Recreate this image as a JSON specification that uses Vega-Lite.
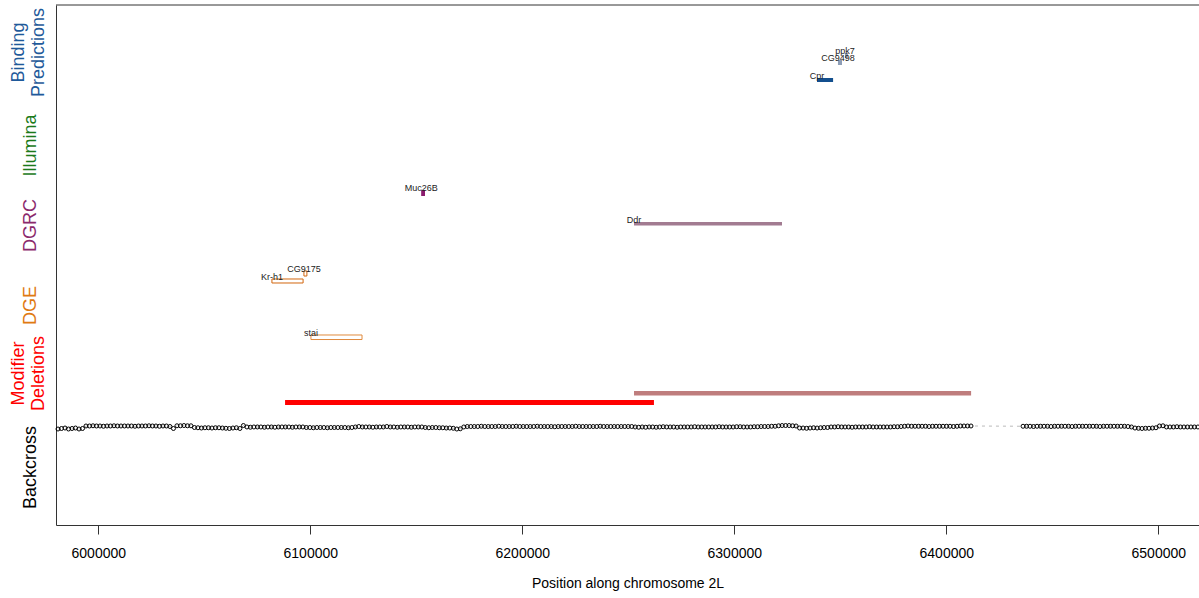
{
  "$schema": "https://vega.github.io/schema/vega-lite/v6.json",
  "width": 1143,
  "height": 520,
  "autosize": {"type": "none"},
  "padding": {"left": 56, "top": 5, "right": 0, "bottom": 73},
  "background": "white",
  "config": {"view": {"stroke": null}, "font": "Liberation Sans"},
  "datasets": {
    "genes": [
      {"gene": "Cpr", "track": "Binding Predictions", "start": 6339000, "end": 6346600, "lo": 85.19, "hi": 85.96},
      {"gene": "CG9498", "track": "Binding Predictions", "start": 6348900, "end": 6350800, "lo": 88.46, "hi": 89.42},
      {"gene": "ppk7", "track": "Binding Predictions", "start": 6352200, "end": 6353600, "lo": 89.81, "hi": 90.77},
      {"gene": "Muc26B", "track": "DGRC", "start": 6152300, "end": 6154100, "lo": 63.27, "hi": 64.42},
      {"gene": "Ddr", "track": "DGRC", "start": 6252700, "end": 6322500, "lo": 57.6, "hi": 58.27},
      {"gene": "Kr-h1", "track": "DGE", "start": 6081900, "end": 6096600, "lo": 46.54, "hi": 47.31},
      {"gene": "CG9175", "track": "DGE", "start": 6097000, "end": 6098400, "lo": 47.88, "hi": 48.85},
      {"gene": "stai", "track": "DGE", "start": 6100300, "end": 6124400, "lo": 35.67, "hi": 36.54},
      {"gene": "del-1", "track": "Modifier Deletions", "start": 6088100, "end": 6262100, "lo": 23.08, "hi": 24.04},
      {"gene": "del-2", "track": "Modifier Deletions", "start": 6252700, "end": 6411700, "lo": 24.9, "hi": 25.77}
    ],
    "bc": [
      {"pos":5981000,"lod":18.46},{"pos":5982650,"lod":18.56},{"pos":5984300,"lod":18.65},{"pos":5985950,"lod":18.46},{"pos":5987600,"lod":18.56},{"pos":5989250,"lod":18.65},{"pos":5990900,"lod":18.46},{"pos":5992550,"lod":18.56},{"pos":5994200,"lod":19.04},{"pos":5995850,"lod":19.04},{"pos":5997500,"lod":19.08},{"pos":5999150,"lod":19.04},{"pos":6000800,"lod":19.04},{"pos":6002450,"lod":18.99},{"pos":6004100,"lod":19.04},{"pos":6005750,"lod":19.04},{"pos":6007400,"lod":19.08},{"pos":6009050,"lod":19.04},{"pos":6010700,"lod":19.04},{"pos":6012350,"lod":19.04},
      {"pos":6014000,"lod":19.04},{"pos":6015650,"lod":19.04},{"pos":6017300,"lod":18.99},{"pos":6018950,"lod":19.04},{"pos":6020600,"lod":19.04},{"pos":6022250,"lod":19.04},{"pos":6023900,"lod":19.08},{"pos":6025550,"lod":19.04},{"pos":6027200,"lod":19.04},{"pos":6028850,"lod":18.99},{"pos":6030500,"lod":19.04},{"pos":6032150,"lod":19.04},{"pos":6033800,"lod":18.94},{"pos":6035450,"lod":18.56},{"pos":6037100,"lod":19.08},{"pos":6038750,"lod":19.08},{"pos":6040400,"lod":19.13},{"pos":6042050,"lod":19.08},{"pos":6043700,"lod":19.08},{"pos":6045350,"lod":18.75},
      {"pos":6047000,"lod":18.7},{"pos":6048650,"lod":18.65},{"pos":6050300,"lod":18.7},{"pos":6051950,"lod":18.7},{"pos":6053600,"lod":18.65},{"pos":6055250,"lod":18.7},{"pos":6056900,"lod":18.7},{"pos":6058550,"lod":18.65},{"pos":6060200,"lod":18.6},{"pos":6061850,"lod":18.56},{"pos":6063500,"lod":18.65},{"pos":6065150,"lod":18.7},{"pos":6066800,"lod":18.56},{"pos":6068450,"lod":19.13},{"pos":6070100,"lod":18.85},{"pos":6071750,"lod":18.8},{"pos":6073400,"lod":18.85},{"pos":6075050,"lod":18.85},{"pos":6076700,"lod":18.85},{"pos":6078350,"lod":18.8},
      {"pos":6080000,"lod":18.85},{"pos":6081650,"lod":18.85},{"pos":6083300,"lod":18.8},{"pos":6084950,"lod":18.85},{"pos":6086600,"lod":18.85},{"pos":6088250,"lod":18.85},{"pos":6089900,"lod":18.85},{"pos":6091550,"lod":18.8},{"pos":6093200,"lod":18.85},{"pos":6094850,"lod":18.85},{"pos":6096500,"lod":18.85},{"pos":6098150,"lod":18.75},{"pos":6099800,"lod":18.75},{"pos":6101450,"lod":18.7},{"pos":6103100,"lod":18.75},{"pos":6104750,"lod":18.75},{"pos":6106400,"lod":18.75},{"pos":6108050,"lod":18.7},{"pos":6109700,"lod":18.75},{"pos":6111350,"lod":18.75},
      {"pos":6113000,"lod":18.75},{"pos":6114650,"lod":18.75},{"pos":6116300,"lod":18.75},{"pos":6117950,"lod":18.7},{"pos":6119600,"lod":18.75},{"pos":6121250,"lod":18.85},{"pos":6122900,"lod":18.94},{"pos":6124550,"lod":18.85},{"pos":6126200,"lod":18.85},{"pos":6127850,"lod":18.85},{"pos":6129500,"lod":18.8},{"pos":6131150,"lod":18.85},{"pos":6132800,"lod":18.85},{"pos":6134450,"lod":18.85},{"pos":6136100,"lod":18.94},{"pos":6137750,"lod":18.85},{"pos":6139400,"lod":18.85},{"pos":6141050,"lod":18.8},{"pos":6142700,"lod":18.85},{"pos":6144350,"lod":18.85},
      {"pos":6146000,"lod":18.85},{"pos":6147650,"lod":18.8},{"pos":6149300,"lod":18.85},{"pos":6150950,"lod":18.85},{"pos":6152600,"lod":18.85},{"pos":6154250,"lod":18.75},{"pos":6155900,"lod":18.7},{"pos":6157550,"lod":18.75},{"pos":6159200,"lod":18.75},{"pos":6160850,"lod":18.7},{"pos":6162500,"lod":18.7},{"pos":6164150,"lod":18.65},{"pos":6165800,"lod":18.65},{"pos":6167450,"lod":18.6},{"pos":6169100,"lod":18.46},{"pos":6170750,"lod":18.5},{"pos":6172400,"lod":18.85},{"pos":6174050,"lod":18.94},{"pos":6175700,"lod":18.94},{"pos":6177350,"lod":18.94},
      {"pos":6179000,"lod":18.94},{"pos":6180650,"lod":18.99},{"pos":6182300,"lod":18.94},{"pos":6183950,"lod":18.94},{"pos":6185600,"lod":18.94},{"pos":6187250,"lod":18.94},{"pos":6188900,"lod":18.99},{"pos":6190550,"lod":18.94},{"pos":6192200,"lod":18.94},{"pos":6193850,"lod":18.94},{"pos":6195500,"lod":18.94},{"pos":6197150,"lod":18.99},{"pos":6198800,"lod":18.94},{"pos":6200450,"lod":18.94},{"pos":6202100,"lod":18.94},{"pos":6203750,"lod":18.94},{"pos":6205400,"lod":18.94},{"pos":6207050,"lod":18.99},{"pos":6208700,"lod":18.94},{"pos":6210350,"lod":18.94},
      {"pos":6212000,"lod":18.94},{"pos":6213650,"lod":18.94},{"pos":6215300,"lod":18.9},{"pos":6216950,"lod":18.94},{"pos":6218600,"lod":18.94},{"pos":6220250,"lod":18.94},{"pos":6221900,"lod":18.94},{"pos":6223550,"lod":18.94},{"pos":6225200,"lod":18.99},{"pos":6226850,"lod":18.94},{"pos":6228500,"lod":18.94},{"pos":6230150,"lod":18.94},{"pos":6231800,"lod":18.94},{"pos":6233450,"lod":18.94},{"pos":6235100,"lod":18.94},{"pos":6236750,"lod":18.99},{"pos":6238400,"lod":18.94},{"pos":6240050,"lod":18.94},{"pos":6241700,"lod":18.94},{"pos":6243350,"lod":18.94},
      {"pos":6245000,"lod":18.94},{"pos":6246650,"lod":18.94},{"pos":6248300,"lod":18.94},{"pos":6249950,"lod":18.94},{"pos":6251600,"lod":18.94},{"pos":6253250,"lod":18.85},{"pos":6254900,"lod":18.8},{"pos":6256550,"lod":18.85},{"pos":6258200,"lod":18.8},{"pos":6259850,"lod":18.85},{"pos":6261500,"lod":18.85},{"pos":6263150,"lod":18.8},{"pos":6264800,"lod":18.85},{"pos":6266450,"lod":18.9},{"pos":6268100,"lod":18.85},{"pos":6269750,"lod":18.85},{"pos":6271400,"lod":18.85},{"pos":6273050,"lod":18.8},{"pos":6274700,"lod":18.85},{"pos":6276350,"lod":18.85},
      {"pos":6278000,"lod":18.85},{"pos":6279650,"lod":18.85},{"pos":6281300,"lod":18.9},{"pos":6282950,"lod":18.85},{"pos":6284600,"lod":18.85},{"pos":6286250,"lod":18.85},{"pos":6287900,"lod":18.85},{"pos":6289550,"lod":18.85},{"pos":6291200,"lod":18.85},{"pos":6292850,"lod":18.9},{"pos":6294500,"lod":18.85},{"pos":6296150,"lod":18.85},{"pos":6297800,"lod":18.85},{"pos":6299450,"lod":18.85},{"pos":6301100,"lod":18.9},{"pos":6302750,"lod":18.9},{"pos":6304400,"lod":18.85},{"pos":6306050,"lod":18.85},{"pos":6307700,"lod":18.85},{"pos":6309350,"lod":18.9},
      {"pos":6311000,"lod":18.9},{"pos":6312650,"lod":18.94},{"pos":6314300,"lod":18.94},{"pos":6315950,"lod":18.94},{"pos":6317600,"lod":18.99},{"pos":6319250,"lod":18.99},{"pos":6320900,"lod":19.08},{"pos":6322550,"lod":19.13},{"pos":6324200,"lod":19.13},{"pos":6325850,"lod":19.13},{"pos":6327500,"lod":19.08},{"pos":6329150,"lod":19.04},{"pos":6330800,"lod":18.65},{"pos":6332450,"lod":18.65},{"pos":6334100,"lod":18.6},{"pos":6335750,"lod":18.65},{"pos":6337400,"lod":18.7},{"pos":6339050,"lod":18.65},{"pos":6340700,"lod":18.7},{"pos":6342350,"lod":18.75},
      {"pos":6344000,"lod":18.75},{"pos":6345650,"lod":18.85},{"pos":6347300,"lod":18.85},{"pos":6348950,"lod":18.9},{"pos":6350600,"lod":18.85},{"pos":6352250,"lod":18.85},{"pos":6353900,"lod":18.85},{"pos":6355550,"lod":18.8},{"pos":6357200,"lod":18.85},{"pos":6358850,"lod":18.85},{"pos":6360500,"lod":18.85},{"pos":6362150,"lod":18.85},{"pos":6363800,"lod":18.9},{"pos":6365450,"lod":18.85},{"pos":6367100,"lod":18.85},{"pos":6368750,"lod":18.85},{"pos":6370400,"lod":18.85},{"pos":6372050,"lod":18.85},{"pos":6373700,"lod":18.85},{"pos":6375350,"lod":18.9},
      {"pos":6377000,"lod":18.9},{"pos":6378650,"lod":18.94},{"pos":6380300,"lod":18.99},{"pos":6381950,"lod":19.04},{"pos":6383600,"lod":18.99},{"pos":6385250,"lod":18.99},{"pos":6386900,"lod":18.99},{"pos":6388550,"lod":18.99},{"pos":6390200,"lod":18.99},{"pos":6391850,"lod":18.94},{"pos":6393500,"lod":18.99},{"pos":6395150,"lod":18.99},{"pos":6396800,"lod":18.99},{"pos":6398450,"lod":18.99},{"pos":6400100,"lod":18.99},{"pos":6401750,"lod":18.99},{"pos":6403400,"lod":18.94},{"pos":6405050,"lod":18.99},{"pos":6406700,"lod":19.04},{"pos":6408350,"lod":19.04},
      {"pos":6410000,"lod":19.04},{"pos":6411650,"lod":19.04},
      {"pos":6436200,"lod":18.99},{"pos":6437850,"lod":18.99},{"pos":6439500,"lod":18.99},{"pos":6441150,"lod":18.94},{"pos":6442800,"lod":18.99},{"pos":6444450,"lod":18.99},{"pos":6446100,"lod":18.99},{"pos":6447750,"lod":18.99},{"pos":6449400,"lod":18.94},{"pos":6451050,"lod":18.99},{"pos":6452700,"lod":18.99},{"pos":6454350,"lod":18.99},{"pos":6456000,"lod":18.99},{"pos":6457650,"lod":18.99},{"pos":6459300,"lod":18.94},{"pos":6460950,"lod":18.99},{"pos":6462600,"lod":18.99},{"pos":6464250,"lod":18.99},{"pos":6465900,"lod":18.99},{"pos":6467550,"lod":18.99},
      {"pos":6469200,"lod":18.99},{"pos":6470850,"lod":18.99},{"pos":6472500,"lod":18.94},{"pos":6474150,"lod":18.99},{"pos":6475800,"lod":18.99},{"pos":6477450,"lod":18.99},{"pos":6479100,"lod":18.99},{"pos":6480750,"lod":18.99},{"pos":6482400,"lod":18.99},{"pos":6484050,"lod":18.99},{"pos":6485700,"lod":18.94},{"pos":6487350,"lod":18.85},{"pos":6489000,"lod":18.65},{"pos":6490650,"lod":18.6},{"pos":6492300,"lod":18.56},{"pos":6493950,"lod":18.6},{"pos":6495600,"lod":18.6},{"pos":6497250,"lod":18.65},{"pos":6498900,"lod":18.7},{"pos":6500550,"lod":19.04},
      {"pos":6502200,"lod":19.08},{"pos":6503850,"lod":18.85},{"pos":6505500,"lod":18.85},{"pos":6507150,"lod":18.85},{"pos":6508800,"lod":18.9},{"pos":6510450,"lod":18.85},{"pos":6512100,"lod":18.85},{"pos":6513750,"lod":18.85},{"pos":6515400,"lod":18.85},{"pos":6517050,"lod":18.85},{"pos":6518700,"lod":18.85}
    ]
  },
  "layer": [
    {
      "data": {"name": "bc"},
      "mark": {"type": "line", "color": "#bbbbbb", "strokeWidth": 1, "strokeDash": [3, 4]},
      "encoding": {
        "x": {
          "field": "pos", "type": "quantitative",
          "scale": {"domain": [5980050, 6519200], "nice": false, "zero": false},
          "axis": {
            "values": [6000000, 6100000, 6200000, 6300000, 6400000, 6500000],
            "format": "d",
            "title": "Position along chromosome 2L",
            "grid": false,
            "tickSize": 9,
            "tickColor": "#333333",
            "domainColor": "#333333",
            "labelFont": "Liberation Sans",
            "labelFontSize": 14,
            "labelColor": "black",
            "labelPadding": 12,
            "labelFlush": false,
            "labelOverlap": false,
            "titleFont": "Liberation Sans",
            "titleFontSize": 14,
            "titleFontWeight": "normal",
            "titleColor": "black",
            "titlePadding": 16
          }
        },
        "y": {
          "field": "lod", "type": "quantitative",
          "scale": {"domain": [0, 100], "nice": false, "zero": false},
          "axis": {
            "values": [11.15, 29.23, 42.31, 57.69, 73.08, 90.96],
            "title": null,
            "grid": false,
            "ticks": false,
            "tickSize": 0,
            "domainColor": "#333333",
            "labelAngle": -90,
            "labelAlign": "center",
            "labelBaseline": "middle",
            "labelPadding": {
              "condition": {"test": "datum.value > 85 || (datum.value > 20 && datum.value < 35)", "value": 38},
              "value": 26
            },
            "labelFont": "Liberation Sans",
            "labelFontSize": 18,
            "labelLineHeight": 20,
            "labelOverlap": false,
            "labelFlush": false,
            "labelBound": false,
            "labelExpr": "datum.value > 85 ? ['Binding', 'Predictions'] : datum.value > 65 ? 'Illumina' : datum.value > 50 ? 'DGRC' : datum.value > 35 ? 'DGE' : datum.value > 20 ? ['Modifier', 'Deletions'] : 'Backcross'",
            "labelColor": {
              "condition": [
                {"test": "datum.value > 85", "value": "#1f5a9a"},
                {"test": "datum.value > 65", "value": "#1b7a1b"},
                {"test": "datum.value > 50", "value": "#8b2a6c"},
                {"test": "datum.value > 35", "value": "#e07a12"},
                {"test": "datum.value > 20", "value": "#ff0000"}
              ],
              "value": "black"
            }
          }
        }
      }
    },
    {
      "data": {"name": "bc"},
      "mark": {"type": "point", "shape": "circle", "filled": false, "size": 16, "strokeWidth": 1, "color": "black", "opacity": 1},
      "encoding": {
        "x": {"field": "pos", "type": "quantitative", "scale": {"domain": [5980050, 6519200], "nice": false, "zero": false}},
        "y": {"field": "lod", "type": "quantitative", "scale": {"domain": [0, 100], "nice": false, "zero": false}}
      }
    },
    {
      "data": {"values": [{"edge": 100}]},
      "mark": {"type": "rule", "color": "#333333", "strokeWidth": 1},
      "encoding": {
        "y": {"field": "edge", "type": "quantitative", "scale": {"domain": [0, 100], "nice": false, "zero": false}}
      }
    },
    {
      "data": {"name": "genes"},
      "transform": [{"filter": "datum.track != 'DGE'"}],
      "mark": {"type": "rect", "opacity": 1},
      "encoding": {
        "x": {"field": "start", "type": "quantitative", "scale": {"domain": [5980050, 6519200], "nice": false, "zero": false}},
        "x2": {"field": "end"},
        "y": {"field": "lo", "type": "quantitative", "scale": {"domain": [0, 100], "nice": false, "zero": false}},
        "y2": {"field": "hi"},
        "color": {
          "field": "gene", "type": "nominal", "legend": null,
          "scale": {
            "domain": ["Cpr", "CG9498", "ppk7", "Muc26B", "Ddr", "Kr-h1", "CG9175", "stai", "del-1", "del-2"],
            "range": ["#134f8e", "#8d9db6", "#8d9db6", "#8b1c6e", "#a27b91", "#d2660e", "#d2660e", "#e08a3c", "#ff0000", "#bf7d7d"]
          }
        }
      }
    },
    {
      "data": {"name": "genes"},
      "transform": [{"filter": "datum.track == 'DGE'"}],
      "mark": {"type": "rect", "filled": false, "strokeWidth": 1, "opacity": 1},
      "encoding": {
        "x": {"field": "start", "type": "quantitative", "scale": {"domain": [5980050, 6519200], "nice": false, "zero": false}},
        "x2": {"field": "end"},
        "y": {"field": "lo", "type": "quantitative", "scale": {"domain": [0, 100], "nice": false, "zero": false}},
        "y2": {"field": "hi"},
        "color": {
          "field": "gene", "type": "nominal", "legend": null,
          "scale": {
            "domain": ["Cpr", "CG9498", "ppk7", "Muc26B", "Ddr", "Kr-h1", "CG9175", "stai", "del-1", "del-2"],
            "range": ["#134f8e", "#8d9db6", "#8d9db6", "#8b1c6e", "#a27b91", "#d2660e", "#d2660e", "#e08a3c", "#ff0000", "#bf7d7d"]
          }
        }
      }
    },
    {
      "data": {"name": "genes"},
      "transform": [{"filter": "datum.track != 'Modifier Deletions'"}],
      "mark": {"type": "text", "align": "center", "baseline": "alphabetic", "dy": 1, "fontSize": 9, "font": "Liberation Sans", "color": "#222222"},
      "encoding": {
        "x": {"field": "start", "type": "quantitative", "scale": {"domain": [5980050, 6519200], "nice": false, "zero": false}},
        "y": {"field": "hi", "type": "quantitative", "scale": {"domain": [0, 100], "nice": false, "zero": false}},
        "text": {"field": "gene"}
      }
    }
  ]
}
